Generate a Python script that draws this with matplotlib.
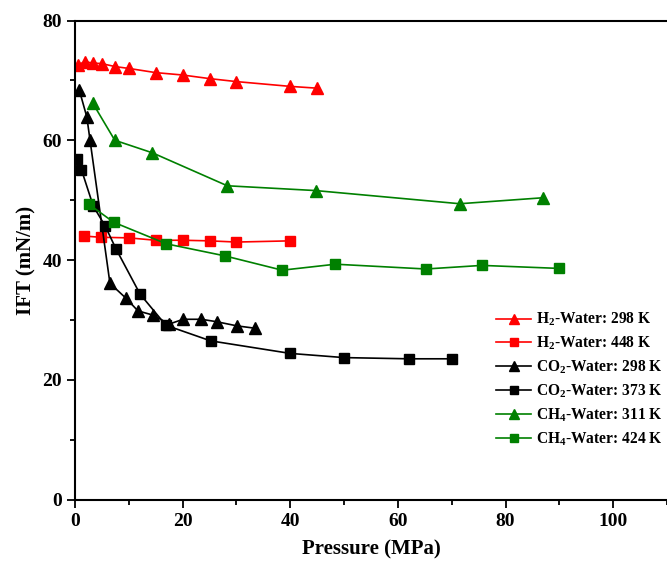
import numpy as np
import matplotlib
matplotlib.use('Agg')
import matplotlib.pyplot as plt
from matplotlib.ticker import MultipleLocator

plt.rcParams['font.family'] = 'Liberation Serif'
plt.rcParams['font.weight'] = 'bold'
plt.rcParams['mathtext.fontset'] = 'custom'
plt.rcParams['mathtext.rm'] = 'Liberation Serif:bold'
plt.rcParams['mathtext.it'] = 'Liberation Serif:bold'
plt.rcParams['mathtext.bf'] = 'Liberation Serif:bold'

# IFT vs pressure for gas-water systems
h2_298_p = [0.5, 1.8, 3.4, 5.0, 7.5, 10.0, 15.0, 20.0, 25.0, 30.0, 40.0, 45.0]
h2_298_ift = [72.6, 73.1, 72.9, 72.8, 72.3, 72.0, 71.3, 70.9, 70.3, 69.8, 69.0, 68.7]

h2_448_p = [1.7, 4.8, 10.0, 15.0, 20.0, 25.0, 30.0, 40.0]
h2_448_ift = [44.0, 43.8, 43.7, 43.3, 43.3, 43.2, 43.0, 43.2]

co2_298_p = [0.8, 2.2, 2.8, 6.5, 9.5, 11.7, 14.5, 17.5, 20.1, 23.5, 26.3, 30.1, 33.5]
co2_298_ift = [68.4, 63.9, 60.0, 36.1, 33.6, 31.5, 30.8, 29.3, 30.1, 30.1, 29.7, 29.0, 28.6]

co2_373_p = [0.4, 1.2, 3.4, 5.6, 7.6, 12.1, 16.9, 25.2, 40.0, 50.0, 62.0, 70.0]
co2_373_ift = [56.8, 55.1, 49.0, 45.7, 41.9, 34.3, 29.1, 26.5, 24.4, 23.7, 23.5, 23.5]

ch4_311_p = [3.3, 7.4, 14.4, 28.3, 44.7, 71.5, 87.0]
ch4_311_ift = [66.2, 60.0, 57.9, 52.4, 51.6, 49.4, 50.4]

ch4_424_p = [2.6, 7.2, 17.0, 27.8, 38.5, 48.4, 65.2, 75.6, 89.9]
ch4_424_ift = [49.3, 46.3, 42.7, 40.7, 38.3, 39.3, 38.5, 39.1, 38.6]

series = [
    (h2_298_p, h2_298_ift, '#FF0000', '^', r'H$_2$-Water: 298 K'),
    (h2_448_p, h2_448_ift, '#FF0000', 's', r'H$_2$-Water: 448 K'),
    (co2_298_p, co2_298_ift, 'black', '^', r'CO$_2$-Water: 298 K'),
    (co2_373_p, co2_373_ift, 'black', 's', r'CO$_2$-Water: 373 K'),
    (ch4_311_p, ch4_311_ift, '#008000', '^', r'CH$_4$-Water: 311 K'),
    (ch4_424_p, ch4_424_ift, '#008000', 's', r'CH$_4$-Water: 424 K'),
]

fig = plt.figure(figsize=(6.67, 5.75), dpi=100)
ax = fig.add_axes([0.1124, 0.1313, 0.8876, 0.833])

for p, ift, c, m, lab in series:
    ax.plot(p, ift, color=c, marker=m, linewidth=1.2,
            markersize=8.4 if m == '^' else 7.2, label=lab)

ax.set_xlim(0, 110)
ax.set_ylim(0, 80)
ax.xaxis.set_major_locator(MultipleLocator(20))
ax.xaxis.set_minor_locator(MultipleLocator(10))
ax.yaxis.set_major_locator(MultipleLocator(20))
ax.yaxis.set_minor_locator(MultipleLocator(10))
ax.tick_params(which='major', direction='out', length=6, width=1.3, labelsize=14)
ax.tick_params(which='minor', direction='out', length=3.5, width=1.3)
ax.spines['right'].set_visible(False)
for s in ['left', 'bottom', 'top']:
    ax.spines[s].set_linewidth(1.5)

ax.set_xlabel('Pressure (MPa)', fontsize=15, fontweight='bold', labelpad=7)
ax.set_ylabel('IFT (mN/m)', fontsize=15, fontweight='bold', labelpad=4)

ax.legend(loc='upper left', bbox_to_anchor=(496 / 667, 1 - 311 / 575),
          bbox_transform=fig.transFigure, frameon=False, fontsize=11.2,
          handlelength=2.25, handletextpad=0.3, labelspacing=0.42,
          borderpad=0, borderaxespad=0, markerscale=0.85)

fig.savefig('out.png', dpi=100)
